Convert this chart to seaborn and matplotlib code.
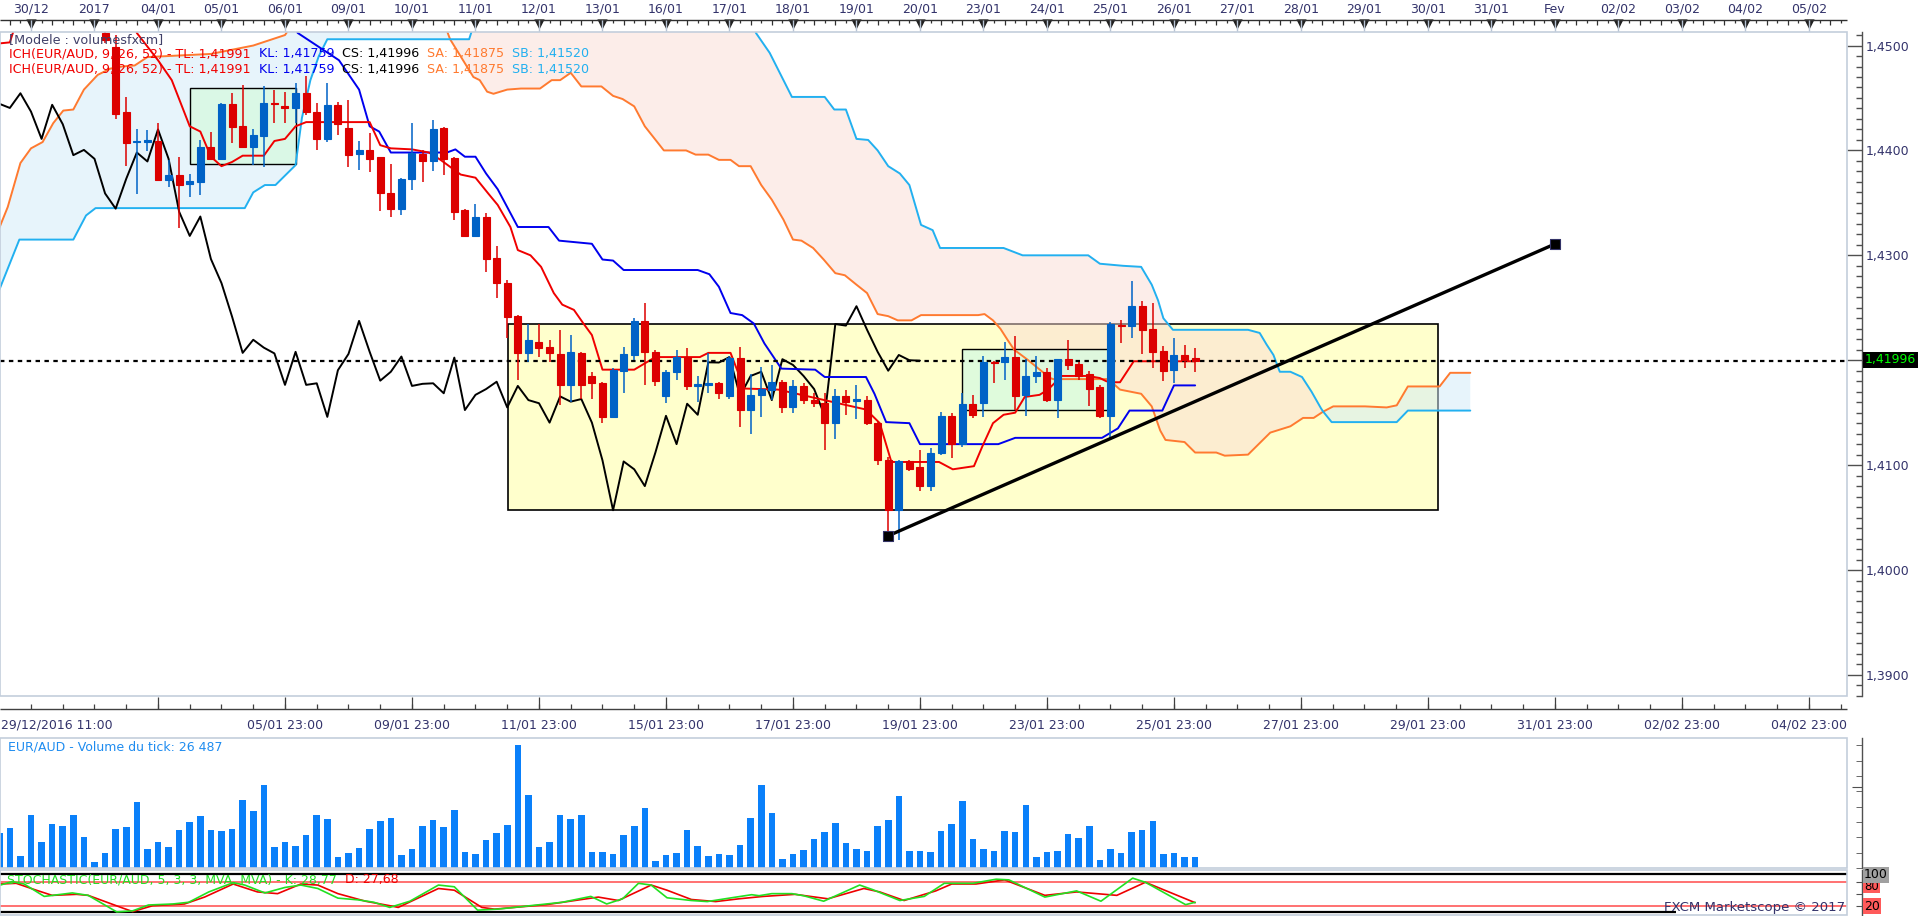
import numpy as np
import pandas as pd
import matplotlib
matplotlib.use("Agg")
import matplotlib.pyplot as plt
import seaborn as sns
from matplotlib.patches import Rectangle
from matplotlib.ticker import MultipleLocator

# EUR/AUD, 4h candles, FXCM Marketscope screenshot (Ichimoku + volume + stochastic)
# x = candle index, 6 candles per trading day, index 0 = first candle of 30/12

day_labels = ["30/12", "2017", "04/01", "05/01", "06/01", "09/01", "10/01", "11/01",
              "12/01", "13/01", "16/01", "17/01", "18/01", "19/01", "20/01", "23/01",
              "24/01", "25/01", "26/01", "27/01", "28/01", "29/01", "30/01", "31/01",
              "Fev", "02/02", "03/02", "04/02", "05/02"]
first_label = "29/12/2016 11:00"
bottom_labels = ["05/01 23:00", "09/01 23:00", "11/01 23:00", "15/01 23:00", "17/01 23:00",
                 "19/01 23:00", "23/01 23:00", "25/01 23:00", "27/01 23:00", "29/01 23:00",
                 "31/01 23:00", "02/02 23:00", "04/02 23:00"]
price_ticks = [1.39, 1.40, 1.41, 1.42, 1.43, 1.44, 1.45]
# 1,4200 is hidden behind the last-price box in the screenshot
price_tick_labels = ["1,3900", "1,4000", "1,4100", "", "1,4300", "1,4400", "1,4500"]

# candles 7..110 (earlier ones sit above the visible price range)
candle_start = 7
opens = [1.45120, 1.44990, 1.44370, 1.44080, 1.44085, 1.44090, 1.43720, 1.43765, 1.43680, 1.43700,
         1.44030, 1.43920, 1.44445, 1.44235, 1.44035, 1.44140, 1.44455, 1.44425, 1.44405, 1.44545,
         1.44370, 1.44110, 1.44435, 1.44210, 1.43970, 1.44005, 1.43935, 1.43590, 1.43445, 1.43725,
         1.43970, 1.43895, 1.44210, 1.43930, 1.43430, 1.43180, 1.43370, 1.42970, 1.42735, 1.42420,
         1.42070, 1.42175, 1.42130, 1.42060, 1.41765, 1.42070, 1.41845, 1.41780, 1.41460, 1.41900,
         1.42050, 1.42375, 1.42080, 1.41660, 1.41885, 1.42035, 1.41750, 1.41765, 1.41780, 1.41655,
         1.42020, 1.41525, 1.41665, 1.41715, 1.41795, 1.41550, 1.41755, 1.41625, 1.41595, 1.41405,
         1.41660, 1.41610, 1.41625, 1.41405, 1.41050, 1.40570, 1.41035, 1.40985, 1.40800, 1.41120,
         1.41470, 1.41200, 1.41585, 1.41595, 1.41985, 1.41980, 1.42030, 1.41670, 1.41850, 1.41890,
         1.41620, 1.42010, 1.41965, 1.41870, 1.41740, 1.41470, 1.42340, 1.42325, 1.42515, 1.42295,
         1.42085, 1.41905, 1.42050, 1.42025]
highs = [1.45150, 1.45100, 1.44510, 1.44200, 1.44195, 1.44260, 1.43910, 1.43940, 1.43780, 1.44100,
         1.44180, 1.44455, 1.44545, 1.44625, 1.44200, 1.44610, 1.44575, 1.44560, 1.44640, 1.44705,
         1.44450, 1.44640, 1.44465, 1.44480, 1.44090, 1.44170, 1.43940, 1.43870, 1.43740, 1.44265,
         1.44005, 1.44290, 1.44225, 1.43940, 1.43440, 1.43490, 1.43400, 1.43090, 1.42765, 1.42430,
         1.42350, 1.42350, 1.42195, 1.42290, 1.42240, 1.42080, 1.41890, 1.41795, 1.41925, 1.42130,
         1.42400, 1.42545, 1.42100, 1.41905, 1.42100, 1.42120, 1.41845, 1.42065, 1.41795, 1.42040,
         1.42130, 1.41870, 1.41940, 1.41955, 1.41810, 1.41810, 1.41780, 1.41685, 1.41685, 1.41730,
         1.41715, 1.41765, 1.41655, 1.41420, 1.41080, 1.41050, 1.41050, 1.41145, 1.41160, 1.41510,
         1.41495, 1.41685, 1.41670, 1.42040, 1.41995, 1.42175, 1.42230, 1.42015, 1.42045, 1.41930,
         1.42015, 1.42190, 1.41985, 1.41900, 1.41765, 1.42360, 1.42385, 1.42755, 1.42565, 1.42550,
         1.42135, 1.42210, 1.42145, 1.42120]
lows = [1.45020, 1.44300, 1.43850, 1.43580, 1.43990, 1.43710, 1.43655, 1.43260, 1.43560, 1.43575,
        1.43910, 1.43910, 1.44070, 1.44020, 1.43860, 1.43840, 1.44265, 1.44260, 1.44260, 1.44340,
        1.44000, 1.44085, 1.44145, 1.43845, 1.43815, 1.43795, 1.43425, 1.43370, 1.43385, 1.43625,
        1.43695, 1.43800, 1.43765, 1.43335, 1.43170, 1.43170, 1.42845, 1.42590, 1.42210, 1.41810,
        1.41985, 1.42035, 1.41985, 1.41575, 1.41605, 1.41635, 1.41635, 1.41400, 1.41445, 1.41685,
        1.42000, 1.41765, 1.41755, 1.41595, 1.41810, 1.41715, 1.41605, 1.41685, 1.41630, 1.41630,
        1.41365, 1.41295, 1.41460, 1.41620, 1.41495, 1.41495, 1.41580, 1.41550, 1.41140, 1.41245,
        1.41480, 1.41435, 1.41380, 1.41000, 1.40325, 1.40285, 1.40940, 1.40755, 1.40755, 1.41100,
        1.41065, 1.41175, 1.41445, 1.41460, 1.41780, 1.41810, 1.41525, 1.41470, 1.41780, 1.41600,
        1.41450, 1.41905, 1.41810, 1.41565, 1.41445, 1.41240, 1.42160, 1.42210, 1.42060, 1.41930,
        1.41805, 1.41780, 1.41930, 1.41890]
closes = [1.45050, 1.44350, 1.44070, 1.44090, 1.44095, 1.43720, 1.43765, 1.43670, 1.43710, 1.44030,
          1.43920, 1.44445, 1.44225, 1.44035, 1.44145, 1.44455, 1.44445, 1.44405, 1.44545, 1.44370,
          1.44110, 1.44435, 1.44250, 1.43955, 1.44005, 1.43920, 1.43590, 1.43445, 1.43730, 1.43980,
          1.43895, 1.44200, 1.43920, 1.43415, 1.43185, 1.43370, 1.42965, 1.42735, 1.42415, 1.42070,
          1.42195, 1.42120, 1.42065, 1.41765, 1.42080, 1.41765, 1.41780, 1.41460, 1.41905, 1.42060,
          1.42375, 1.42080, 1.41805, 1.41890, 1.42035, 1.41755, 1.41775, 1.41780, 1.41685, 1.42025,
          1.41525, 1.41670, 1.41725, 1.41795, 1.41550, 1.41755, 1.41620, 1.41590, 1.41405, 1.41655,
          1.41605, 1.41630, 1.41405, 1.41045, 1.40570, 1.41035, 1.40960, 1.40800, 1.41120, 1.41470,
          1.41200, 1.41585, 1.41480, 1.41980, 1.41978, 1.42030, 1.41660, 1.41850, 1.41890, 1.41620,
          1.42010, 1.41955, 1.41850, 1.41725, 1.41470, 1.42345, 1.42330, 1.42515, 1.42290, 1.42080,
          1.41900, 1.42050, 1.42000, 1.41996]

# Ichimoku lines, read as vertices (index, price); 1.4525 = above the visible top
tenkan_n = [-3, -2, -1.3, 9.5, 10, 12, 13.3, 15, 16, 17, 18, 19, 20, 22, 23, 24, 25, 26, 32, 33, 34,
            36, 37.6, 38.7, 40.6, 42, 43.2, 44.1, 45.3, 46, 47.2, 48.2, 49.4, 50.2, 51.3, 52.2, 53,
            54, 57, 58, 59, 63.2, 64, 66.1, 67.4, 70.6, 74.1, 76.7, 78.9, 80.2, 81.3, 85.8, 87.1,
            89.1, 89.9, 90.9, 91.9, 93, 93.9, 95.3, 96.1, 97.4, 99.9, 101, 101.6, 102.1, 102.9,
            104.2, 110]
tenkan_p = [1.4502, 1.4503, 1.4525, 1.4525, 1.4512, 1.4486, 1.4467, 1.4423, 1.4418, 1.4394, 1.4385,
            1.4389, 1.4395, 1.4395, 1.4409, 1.4411, 1.4423, 1.4427, 1.4427, 1.4405, 1.4402, 1.4401,
            1.4398, 1.4391, 1.4377, 1.4374, 1.4359, 1.4348, 1.4327, 1.4305, 1.4300, 1.4289, 1.4264,
            1.4253, 1.4248, 1.4235, 1.4224, 1.4191, 1.4191, 1.4197, 1.4203, 1.4203, 1.4207, 1.4207,
            1.4173, 1.4172, 1.4164, 1.4158, 1.4153, 1.4140, 1.4103, 1.4103, 1.4096, 1.4099, 1.4118,
            1.4140, 1.4148, 1.4150, 1.4165, 1.4167, 1.4172, 1.4185, 1.4185, 1.4183, 1.4180, 1.4179,
            1.4179, 1.4199, 1.4199]
kijun_n = [24.5, 25.2, 29.1, 31, 32, 32.9, 34, 39.3, 40.1, 41, 42, 43, 44.1, 46, 48.9, 49.9, 53, 54,
           55, 56, 63, 64.1, 65, 66.1, 67.2, 68.3, 69.3, 70.9, 74.1, 75, 78.9, 79.7, 80.8, 83, 84,
           91.4, 93, 101.2, 102.7, 103.8, 106.9, 108, 110]
kijun_p = [1.4525, 1.4512, 1.4486, 1.4458, 1.4423, 1.4418, 1.4398, 1.4398, 1.4401, 1.4394, 1.4394,
           1.4378, 1.4363, 1.4327, 1.4327, 1.4314, 1.4311, 1.4296, 1.4295, 1.4286, 1.4286, 1.4282,
           1.4270, 1.4245, 1.4243, 1.4235, 1.4216, 1.4192, 1.4191, 1.4184, 1.4184, 1.4168, 1.4141,
           1.4140, 1.4120, 1.4120, 1.4126, 1.4126, 1.4135, 1.4152, 1.4152, 1.4176, 1.4176]
senkou_a_n = [-3, -2.2, -1, 0, 1.1, 2.1, 3.05, 4, 5, 6.3, 7.5, 8.6, 9.8, 11, 13, 17, 21, 24, 25, 38.9,
              39.6, 41.8, 42.4, 43.1, 43.7, 45, 46.3, 48.1, 49.2, 50, 51, 52, 53.9, 55, 55.9, 57, 58,
              59.8, 61.9, 62.8, 64, 65, 66.1, 66.9, 68, 69, 70, 71.1, 72, 72.8, 73.9, 74.9, 76, 76.9,
              78, 79, 80, 81, 81.9, 83.2, 84.1, 89.5, 90.1, 90.9, 91.6, 92.3, 92.9, 94.1, 95.2, 96.3,
              96.6, 101.8, 102.9, 104.9, 105.9, 106.7, 107.2, 109, 110, 112, 112.8, 115, 115.8,
              117.1, 119, 120.2, 121.2, 122.1, 123.05, 126.05, 128.1, 129.05, 130.1, 133.1, 134.1, 136]
senkou_a_p = [1.4326, 1.4346, 1.4388, 1.4402, 1.4408, 1.4426, 1.4438, 1.4439, 1.4458, 1.4472, 1.4478,
              1.4480, 1.4481, 1.4489, 1.4490, 1.4492, 1.4500, 1.4510, 1.4525, 1.4525, 1.4506, 1.4470,
              1.4467, 1.4456, 1.4454, 1.4458, 1.4459, 1.4459, 1.4467, 1.4467, 1.4474, 1.4461, 1.4461,
              1.4452, 1.4449, 1.4442, 1.4423, 1.4400, 1.4400, 1.4396, 1.4396, 1.4391, 1.4391, 1.4385,
              1.4385, 1.4367, 1.4353, 1.4334, 1.4315, 1.4314, 1.4307, 1.4296, 1.4283, 1.4281, 1.4272,
              1.4264, 1.4244, 1.4242, 1.4238, 1.4238, 1.4243, 1.4243, 1.4244, 1.4238, 1.4230, 1.4219,
              1.4210, 1.4201, 1.4192, 1.4183, 1.4182, 1.4182, 1.4172, 1.4168, 1.4156, 1.4133, 1.4124,
              1.4122, 1.4112, 1.4112, 1.4109, 1.4110, 1.4118, 1.4131, 1.4137, 1.4145, 1.4145, 1.4151,
              1.4156, 1.4156, 1.4155, 1.4157, 1.4175, 1.4175, 1.4188, 1.4188]
senkou_b_n = [-3, -1.1, 4, 5.2, 6.1, 20.2, 21, 22.1, 23.1, 25, 25.6, 26.4, 27.2, 28, 39.6, 41.4, 42, 68,
              68.5, 69.8, 71.9, 75, 75.9, 77, 78, 79.1, 80, 81, 82.1, 83, 84.1, 85.2, 85.9, 91.9,
              93.7, 99.9, 101, 103.2, 104.9, 105.9, 106.5, 107, 107.9, 115, 116.1, 116.75, 117.4,
              118, 119, 120.1, 121, 121.9, 122.1, 122.9, 129.05, 130.1, 136]
senkou_b_p = [1.4267, 1.4315, 1.4315, 1.4338, 1.4345, 1.4345, 1.4360, 1.4367, 1.4367, 1.4386, 1.4431,
              1.4467, 1.4490, 1.4506, 1.4506, 1.4506, 1.4525, 1.4525, 1.4512, 1.4493, 1.4451, 1.4451,
              1.4439, 1.4439, 1.4411, 1.4410, 1.4400, 1.4385, 1.4378, 1.4367, 1.4329, 1.4324, 1.4307,
              1.4307, 1.4300, 1.4300, 1.4292, 1.4290, 1.4289, 1.4272, 1.4257, 1.4240, 1.4229, 1.4229,
              1.4226, 1.4215, 1.4205, 1.4189, 1.4189, 1.4184, 1.4170, 1.4154, 1.4151, 1.4141, 1.4141,
              1.4152, 1.4152]
cloud_cross_n = [39.6, 122.1]   # where Senkou A and B swap
chikou_shift = 26

# drawn zones: yellow range box and two green boxes
zone_n0 = [45.04, 15.05, 88.0]
zone_n1 = [132.96, 25.05, 101.8]
zone_lo = [1.40572, 1.43867, 1.41522]
zone_hi = [1.42342, 1.44592, 1.42104]
trend_n = [80.95, 144.0]
trend_p = [1.40324, 1.43108]

# tick volume (thousands), candles -3..110
volume = [86.9, 99.3, 29.8, 130.8, 63.7, 108.4, 103.5, 130.8, 76.1, 14.1, 36.4, 96.0, 101.0, 163.1,
          46.4, 63.7, 52.1, 93.5, 113.4, 128.3, 93.5, 91.0, 96.0, 168.0, 140.7, 205.3, 51.3, 63.7,
          53.8, 81.1, 130.8, 120.8, 26.5, 36.4, 48.8, 96.0, 115.9, 123.3, 31.5, 46.4, 103.5, 118.4,
          101.0, 143.2, 38.9, 33.9, 68.7, 86.1, 105.9, 304.6, 180.4, 51.3, 63.7, 130.8, 120.8, 130.8,
          38.9, 38.9, 33.9, 81.1, 103.5, 148.2, 16.6, 31.5, 36.4, 93.5, 53.8, 29.0, 33.9, 31.5, 56.3,
          123.3, 205.3, 135.7, 21.5, 33.9, 43.9, 71.2, 88.6, 110.9, 61.2, 46.4, 41.4, 103.5, 118.4,
          178.0, 41.4, 41.4, 38.9, 91.0, 108.4, 165.5, 71.2, 46.4, 41.4, 91.0, 88.6, 155.6, 26.5,
          38.9, 41.4, 83.6, 73.7, 103.5, 19.0, 46.4, 36.4, 88.6, 93.5, 115.9, 33.9, 36.4, 26.5, 26.5]
volume_start = -3

# stochastic %K / %D vertices
stoch_k_n = [-2.9, -1.8, -0.65, 1.25, 3.9, 5.4, 8.1, 9.6, 11.1, 13.4, 14.9, 16.8, 19.1, 20.2, 22.1,
             24.0, 25.5, 27.1, 29.0, 30.9, 32.4, 33.9, 35.8, 38.5, 40.0, 42.2, 44.1, 48.7, 50.2,
             52.9, 54.4, 55.9, 57.4, 58.6, 60.1, 62.4, 63.9, 66.2, 68.1, 68.8, 70.0, 71.9, 73.0,
             74.9, 78.3, 79.5, 82.1, 84.4, 86.3, 89.0, 91.2, 92.4, 95.8, 98.8, 101.1, 104.1, 105.3,
             109.1, 110.0]
stoch_k = [72.9, 81.8, 75.6, 43.8, 52.7, 46.5, 4.1, 6.8, 21.8, 24.4, 28.8, 55.3, 79.1, 72.9, 52.7,
           66.8, 72.9, 64.1, 39.4, 35.0, 28.8, 15.6, 31.5, 72.9, 68.5, 8.6, 11.2, 24.4, 28.8, 43.8,
           24.4, 37.7, 77.4, 72.9, 40.3, 33.3, 30.6, 40.3, 48.2, 45.6, 50.9, 50.9, 45.6, 31.5, 72.9,
           61.5, 33.3, 43.8, 77.4, 77.4, 87.9, 86.2, 42.1, 58.0, 31.5, 90.6, 80.0, 22.7, 28.77]
stoch_d_n = [-2.9, -1.4, 0.5, 2.0, 4.3, 5.4, 8.5, 9.6, 11.5, 14.5, 16.4, 19.1, 21.4, 23.3, 25.5, 27.1,
             29.0, 31.6, 33.9, 34.7, 38.5, 40.0, 42.6, 43.8, 48.7, 52.5, 53.6, 55.5, 58.6, 60.1,
             62.4, 64.7, 66.9, 69.2, 72.2, 75.3, 78.7, 80.2, 82.5, 85.5, 87.0, 89.3, 92.0, 95.8,
             98.8, 102.6, 105.3, 110.0]
stoch_d = [75.6, 77.4, 59.7, 46.5, 49.1, 46.5, 15.6, 5.0, 20.0, 24.4, 42.1, 75.6, 55.3, 50.9, 75.6,
           72.9, 50.9, 31.5, 20.0, 15.6, 64.1, 59.7, 15.6, 11.2, 22.7, 37.7, 42.1, 33.3, 72.9, 59.7,
           35.9, 30.6, 37.7, 43.8, 49.1, 37.7, 64.1, 55.3, 33.3, 58.0, 75.6, 75.6, 86.2, 46.5, 55.3,
           46.5, 80.0, 27.68]

# ---------------- layout (figure pixels) ----------------
W, H = 1919, 916
X0, STEP = 31.0, 10.583          # pixel of candle 0, pixels per candle
AX_R, FRAME_R = 1862, 1847
MAIN_T, MAIN_B = 32, 696
VOL_T, VOL_B = 738, 868
ST_T, ST_B = 870, 916
P_TOP, P_BOT = 1.45129, 1.38799

RED, BLUE = "#DC0000", "#0062C6"
TXT = "#33336B"
FRAME_C = "#C3CEDC"


def n_of_px(px):
    return (px - X0) / STEP


XL, XR, XF = n_of_px(0), n_of_px(AX_R), n_of_px(FRAME_R)

sns.set_style("white")
plt.rcParams["font.family"] = ["DejaVu Sans"]

fig = plt.figure(figsize=(W / 100, H / 100), dpi=100)
fig.patch.set_facecolor("white")


def ax_px(x0, y0, x1, y1):
    return fig.add_axes([x0 / W, 1 - y1 / H, (x1 - x0) / W, (y1 - y0) / H])


def right_axis(a):
    for s in ["left", "top", "bottom"]:
        a.spines[s].set_visible(False)
    a.spines["right"].set_color("#505050")
    a.spines["right"].set_linewidth(1)
    a.yaxis.tick_right()
    a.set_xticks([])
    a.set_facecolor("none")


def frame(y0, y1):
    fig.add_artist(Rectangle((0, 1 - y1 / H), FRAME_R / W, (y1 - y0) / H, transform=fig.transFigure,
                             fill=False, ec=FRAME_C, lw=1.2, zorder=20))


# ---------------- main price panel ----------------
ax = ax_px(0, MAIN_T, AX_R, MAIN_B)
ax.set_xlim(XL, XR)
ax.set_ylim(P_BOT, P_TOP)
right_axis(ax)
ax.set_yticks(price_ticks)
ax.set_yticklabels(price_tick_labels)
ax.yaxis.set_minor_locator(MultipleLocator(0.001))
ax.tick_params(axis="y", which="major", direction="in", length=11, width=1, color="#505050",
               pad=3, labelsize=9, labelcolor=TXT)
ax.tick_params(axis="y", which="minor", direction="in", length=4, width=1, color="#505050")
frame(MAIN_T, MAIN_B)

# yellow range box, green boxes
ax.add_patch(Rectangle((zone_n0[0], zone_lo[0]), zone_n1[0] - zone_n0[0], zone_hi[0] - zone_lo[0],
                       fc="#FFFFCC", ec="black", lw=1.2, zorder=1))

# cloud
sa = pd.DataFrame({"n": senkou_a_n, "p": senkou_a_p})
sb = pd.DataFrame({"n": senkou_b_n, "p": senkou_b_p})
bounds = [senkou_a_n[0]] + cloud_cross_n + [senkou_a_n[-1]]
cloud_cols = [("#D1EBF9", 0.5), ("#FBDDD5", 0.5), ("#D1EBF9", 0.5)]
for a, b, (c, al) in zip(bounds[:-1], bounds[1:], cloud_cols):
    A = sa[(sa.n >= a) & (sa.n <= b)]
    B = sb[(sb.n >= a) & (sb.n <= b)].iloc[::-1]
    ax.fill(np.r_[A.n, B.n], np.r_[A.p, B.p], color=c, alpha=al, lw=0, zorder=2)

for i in (1, 2):
    ax.add_patch(Rectangle((zone_n0[i], zone_lo[i]), zone_n1[i] - zone_n0[i], zone_hi[i] - zone_lo[i],
                           fc="#D7FAE1", alpha=0.8, ec="none", zorder=3))
    ax.add_patch(Rectangle((zone_n0[i], zone_lo[i]), zone_n1[i] - zone_n0[i], zone_hi[i] - zone_lo[i],
                           fill=False, ec="black", lw=1, zorder=3))

# ichimoku lines
candles = pd.DataFrame({"n": np.arange(candle_start, candle_start + len(closes)),
                        "open": opens, "high": highs, "low": lows, "close": closes})
line_kw = dict(ax=ax, estimator=None, sort=False, legend=False, zorder=4)
sns.lineplot(x=senkou_a_n, y=senkou_a_p, color="#FF7A30", linewidth=1.4, **line_kw)
sns.lineplot(x=senkou_b_n, y=senkou_b_p, color="#22B0F0", linewidth=1.4, **line_kw)
sns.lineplot(x=(candles.n - chikou_shift).to_numpy(), y=candles.close.to_numpy(),
             color="black", linewidth=1.4, **line_kw)
sns.lineplot(x=kijun_n, y=kijun_p, color="#0000EE", linewidth=1.4, **line_kw)
sns.lineplot(x=tenkan_n, y=tenkan_p, color="#F00000", linewidth=1.4, **line_kw)
ax.set(xlabel="", ylabel="")

# last price dotted line
ax.hlines(closes[-1], XL, XF, colors="black", linestyles=(0, (2, 2)), lw=1.6, zorder=4.5)

# candles
up = candles.close >= candles.open
col = np.where(up, BLUE, RED)
ax.vlines(candles.n, candles.low, candles.high, colors=col, lw=1.1, zorder=5)
ax.bar(candles.n, (candles.close - candles.open).abs(),
       bottom=candles[["open", "close"]].min(axis=1), width=0.66,
       color=col, edgecolor=col, lw=0.8, zorder=6)

# trend line
ax.plot(trend_n, trend_p, color="black", lw=2.4, zorder=7, solid_capstyle="butt")
ax.scatter(trend_n, trend_p, marker="s", s=42, color="black", edgecolor="#333366", lw=0.8, zorder=8)

# ---------------- top date strip ----------------
day_n = np.arange(len(day_labels)) * 6
axt = ax_px(0, 0, AX_R, MAIN_T)
axt.set_xlim(XL, XR)
axt.set_ylim(MAIN_T, 0)
axt.axis("off")
axt.hlines(20, XL, XF, colors="#303030", lw=1)
minor = np.arange(-2, int(XF) + 1)
axt.vlines(minor, 20, np.where(minor % 2 == 0, 25, 23), colors="#303030", lw=0.9)
axt.vlines(day_n, 20, MAIN_T, colors="#B8C4D4", lw=1)
axt.scatter(day_n, np.full(len(day_n), 23.5), marker="v", s=55, color="#202020", lw=0)
for x, lab in zip(day_n, day_labels):
    axt.text(x, 9.5, lab, ha="center", va="center", fontsize=9, color=TXT)

# ---------------- bottom date strip ----------------
axb = ax_px(0, MAIN_B, AX_R, VOL_T)
axb.set_xlim(XL, XR)
axb.set_ylim(VOL_T, MAIN_B)
axb.axis("off")
axb.hlines(709, XL, XF, colors="#404040", lw=1)
axb.vlines(np.arange(0, int(XF) + 1, 3), 704, 709, colors="#404040", lw=0.9)
axb.vlines(np.arange(12, int(XF) + 1, 12), 697, 709, colors="#404040", lw=0.9)
axb.text(n_of_px(1), 725, first_label, ha="left", va="center", fontsize=9, color=TXT)
for i, lab in enumerate(bottom_labels):
    axb.text(24 + 12 * i, 725, lab, ha="center", va="center", fontsize=9, color=TXT)

# ---------------- volume panel ----------------
axv = ax_px(0, VOL_T, AX_R, VOL_B)
axv.set_xlim(XL, XR)
axv.set_ylim(0, 322)
right_axis(axv)
axv.bar(np.arange(volume_start, volume_start + len(volume)), volume, width=0.62,
        color="#0A80FA", lw=0)
axv.set_yticks([200])
axv.set_yticklabels([])
axv.yaxis.set_minor_locator(MultipleLocator(38))
axv.tick_params(axis="y", which="major", direction="in", length=7, color="#505050")
axv.tick_params(axis="y", which="minor", direction="in", length=4, color="#505050")
frame(VOL_T, VOL_B)

# ---------------- stochastic panel ----------------
axs = ax_px(0, ST_T, AX_R, ST_B)
axs.set_xlim(XL, XR)
axs.set_ylim(-6.4, 111.5)
right_axis(axs)
axs.set_yticks([20, 50, 80])
axs.set_yticklabels([])
axs.tick_params(axis="y", direction="in", length=4, color="#505050")
axs.hlines([80, 20], XL, XF, colors="#FF4A4A", lw=1.1)
axs.hlines(100, XL, XF, colors="black", lw=1.6)
axs.hlines(3, XL, n_of_px(1676), colors="black", lw=1.6)
sns.lineplot(x=stoch_d_n, y=stoch_d, ax=axs, color="#EE0000", linewidth=1.2,
             estimator=None, sort=False, legend=False)
sns.lineplot(x=stoch_k_n, y=stoch_k, ax=axs, color="#22E022", linewidth=1.2,
             estimator=None, sort=False, legend=False)
axs.set(xlabel="", ylabel="")
frame(ST_T, 915)

# ---------------- texts ----------------
renderer = fig.canvas.get_renderer()


def text_row(x_px, y_px, parts, size):
    x = x_px
    for s, c in parts:
        t = fig.text(x / W, 1 - y_px / H, s, color=c, fontsize=size, va="center", ha="left", zorder=30)
        x += t.get_window_extent(renderer).width


fig.text(9 / W, 1 - 40 / H, "[Modele : volumesfxcm]", color="#404068", fontsize=9.2, va="center")
ich = [("ICH(EUR/AUD, 9, 26, 52) - TL: 1,41991  ", "#F00000"), ("KL: 1,41759  ", "#0000EE"),
       ("CS: 1,41996  ", "black"), ("SA: 1,41875  ", "#FF7A30"), ("SB: 1,41520", "#22B0F0")]
text_row(9, 54, ich, 9.1)
text_row(9, 69, ich, 9.1)

fig.text(1865 / W, 1 - 360 / H, "1,41996", color="#00FF00", fontsize=9, va="center", ha="left",
         bbox=dict(fc="black", ec="none", pad=1.2))

fig.text(8 / W, 1 - 747 / H, "EUR/AUD - Volume du tick: 26 487", color="#1E8CF0", fontsize=9,
         va="center")
text_row(7, 880, [("STOCHASTIC(EUR/AUD, 5, 3, 3, MVA, MVA) - K: 28,77 ", "#22DD22"),
                  (" D: 27,68", "#EE0000")], 9)
fig.text(1845 / W, 1 - 907 / H, "FXCM Marketscope \u00a9 2017", color=TXT, fontsize=9.5,
         va="center", ha="right")

fig.text(1864 / W, 1 - 886 / H, "80", color="black", fontsize=8.5, va="center", ha="left",
         bbox=dict(fc="#FF5A5A", ec="none", pad=0.6))
fig.text(1864 / W, 1 - 875 / H, "100", color="black", fontsize=9, va="center", ha="left",
         bbox=dict(fc="#A0A0A0", ec="none", pad=0.8))
fig.text(1864 / W, 1 - 906 / H, "20", color="black", fontsize=9, va="center", ha="left",
         bbox=dict(fc="#FF5A5A", ec="none", pad=0.8))

plt.savefig("out.png", dpi=100, facecolor="white")
